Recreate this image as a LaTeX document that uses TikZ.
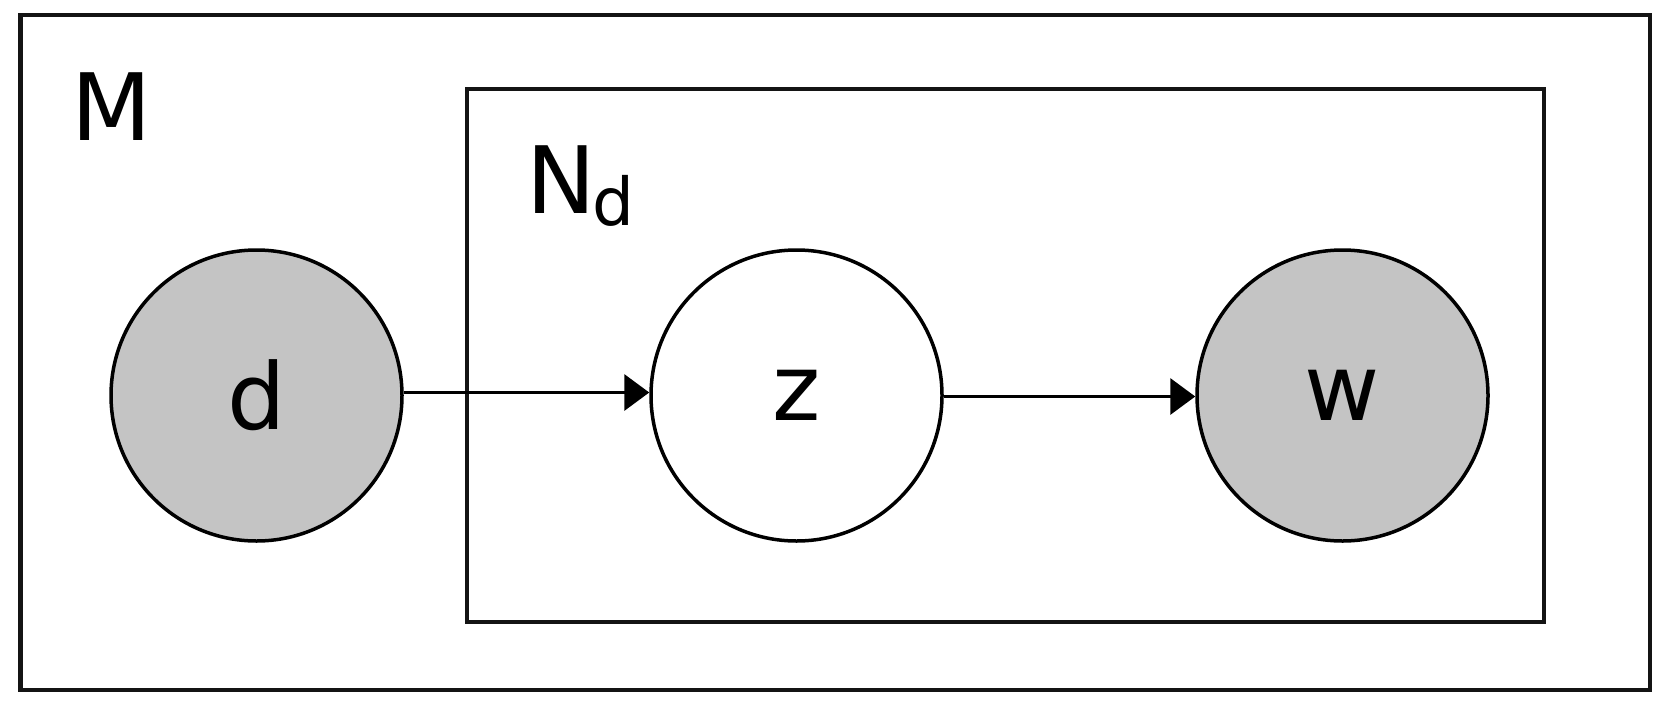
\documentclass[tikz,border=0pt]{standalone}
\usepackage{fontspec}
\setmainfont{DejaVu Sans}
\usetikzlibrary{arrows.meta}
\definecolor{nodegray}{RGB}{196,196,196}
\definecolor{edgeblack}{RGB}{20,20,20}
\tikzset{
  plate/.style={draw=edgeblack, line width=4.5pt},
  var/.style={circle, draw=black, line width=3.5pt, minimum size=291pt, inner sep=0pt,
              font=\fontsize{92}{100}\selectfont},
  observed/.style={var, fill=nodegray},
  latent/.style={var, fill=white},
  platelabel/.style={anchor=base west, inner sep=0pt, font=\fontsize{93}{100}\selectfont},
  arr/.style={line width=3.5pt, -{Triangle[length=25pt,width=36pt]}}
}
\begin{document}
\begin{tikzpicture}[x=1pt,y=-1pt]
\useasboundingbox (0,0) rectangle (1680,715);
\fill[white] (0,0) rectangle (1680,715);
% plates
\draw[plate] (20.5,15) rectangle (1650,690);
\draw[plate] (467,89) rectangle (1544,622);
\node[platelabel] (Mlab) at (71,140) {M};
\node[platelabel] (Nlab) at (526,213) {N\kern-3pt\raisebox{-12pt}{\fontsize{66}{66}\selectfont d}};
% variables
\node[observed] (d) at (256.5,395.5) {d};
\node[latent] (z) at (796.5,395.5) {z};
\node[observed] (w) at (1342.5,395.5) {w};
% edges
\draw[arr] ([yshift=3pt]d.east) -- ([yshift=3pt]z.west);
\draw[arr] ([yshift=-1pt]z.east) -- ([yshift=-1pt]w.west);
\end{tikzpicture}
\end{document}
